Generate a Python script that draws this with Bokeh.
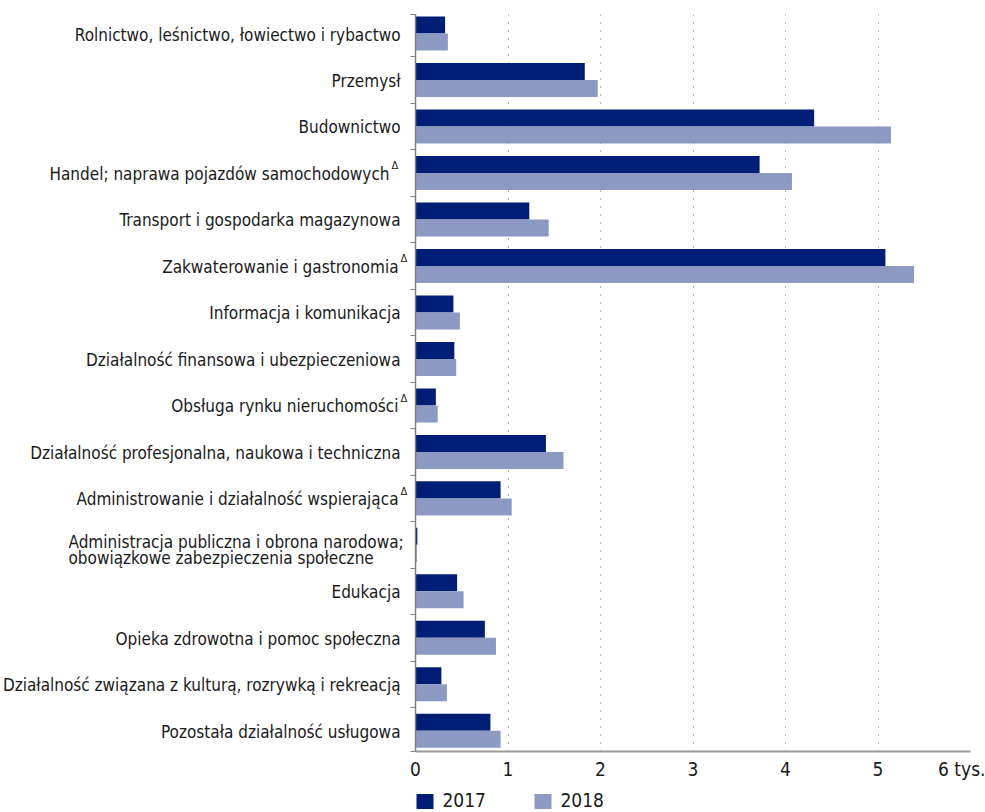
from bokeh.plotting import figure
from bokeh.layouts import row, column
from bokeh.models import ColumnDataSource, Range1d, FixedTicker
from bokeh.transform import dodge
from bokeh.core.properties import value
from bokeh.embed import file_html
from bokeh.resources import INLINE

categories = [
    "Rolnictwo, leśnictwo, łowiectwo i rybactwo",
    "Przemysł",
    "Budownictwo",
    "Handel; naprawa pojazdów samochodowych",
    "Transport i gospodarka magazynowa",
    "Zakwaterowanie i gastronomia",
    "Informacja i komunikacja",
    "Działalność finansowa i ubezpieczeniowa",
    "Obsługa rynku nieruchomości",
    "Działalność profesjonalna, naukowa i techniczna",
    "Administrowanie i działalność wspierająca",
    "Administracja publiczna i obrona narodowa;\nobowiązkowe zabezpieczenia społeczne",
    "Edukacja",
    "Opieka zdrowotna i pomoc społeczna",
    "Działalność związana z kulturą, rozrywką i rekreacją",
    "Pozostała działalność usługowa",
]
delta_flag = [False, False, False, True, False, True, False, False,
              True, False, True, False, False, False, False, False]
v2017 = [0.32, 1.83, 4.31, 3.72, 1.23, 5.08, 0.41, 0.42,
         0.22, 1.41, 0.92, 0.02, 0.45, 0.75, 0.28, 0.81]
v2018 = [0.35, 1.97, 5.14, 4.07, 1.44, 5.39, 0.48, 0.44,
         0.24, 1.60, 1.04, 0.015, 0.52, 0.87, 0.34, 0.92]
series_names = ["2017", "2018"]
x_ticks = [0, 1, 2, 3, 4, 5, 6]
x_tick_labels = ["0", "1", "2", "3", "4", "5", "6 tys."]

FONT = "'DejaVu Sans Condensed', Roboto, sans-serif"
TXT = "#1a1a1a"
C2017 = "#001E75"
C2018 = "#8C9AC3"
LABEL_SIZE = "17px"

n = len(categories)
ypos = list(range(n))
W = 985
H = 783
LEG_H = 812 - H
LW = 408          # width of the label column
TOP, BOTTOM = 14, H - 751

yr = Range1d(15.445, -0.409)

# ---------------- main chart ----------------
p = figure(width=W - LW, height=H, output_backend="svg", toolbar_location=None,
           x_range=Range1d(0, 6), y_range=yr,
           min_border_left=7, min_border_right=15, min_border_top=TOP,
           min_border_bottom=BOTTOM)
p.outline_line_color = None

src = ColumnDataSource(dict(y=ypos, v2017=v2017, v2018=v2018))
bh = 0.366
r1 = p.hbar(y=dodge("y", -bh / 2, range=yr), right="v2017", left=0,
            height=bh, source=src, fill_color=C2017, line_color=None)
r2 = p.hbar(y=dodge("y", bh / 2, range=yr), right="v2018", left=0,
            height=bh, source=src, fill_color=C2018, line_color=None)

xa = p.xaxis[0]
xa.ticker = FixedTicker(ticks=x_ticks)
xa.major_label_overrides = {t: lab for t, lab in zip(x_ticks, x_tick_labels)}
xa.major_label_text_font = FONT
xa.major_label_text_font_size = "19px"
xa.major_label_text_color = TXT
xa.major_label_standoff = 0
xa.major_tick_line_color = None
xa.minor_tick_line_color = None
xa.axis_line_color = "#9a9a9a"
xa.axis_line_width = 2

ya = p.yaxis[0]
yticks = [-0.409] + [i + 0.5 for i in range(n - 1)] + [15.445]
ya.ticker = FixedTicker(ticks=yticks)
ya.major_label_overrides = {t: "" for t in yticks}
ya.major_label_standoff = 0
ya.major_tick_out = 5
ya.major_tick_in = 0
ya.major_tick_line_color = "#808080"
ya.minor_tick_line_color = None
ya.axis_line_color = "#808080"
ya.axis_line_width = 1.5

p.ygrid.grid_line_color = None
p.xgrid.ticker = FixedTicker(ticks=[1, 2, 3, 4, 5, 6])
p.xgrid.grid_line_color = "#6a6a6a"
p.xgrid.grid_line_dash = "1 7"
p.xgrid.grid_line_width = 1

# ---------------- label column ----------------
q = figure(width=LW, height=H, output_backend="svg", toolbar_location=None,
           x_range=Range1d(0, LW), y_range=yr,
           min_border_left=0, min_border_right=0, min_border_top=TOP,
           min_border_bottom=BOTTOM)
q.outline_line_color = None
q.axis.visible = False
q.grid.visible = False

r_text, r_y, r_x = [], [], []
l_text, l_y, l_yoff = [], [], []
d_y, d_x = [], []
for i, cat in enumerate(categories):
    lines = cat.split("\n")
    if len(lines) == 1:
        right = 400
        if delta_flag[i]:
            right = 389 if i == 3 else 398
            d_y.append(i)
            d_x.append(right + 2)
        r_text.append(cat)
        r_y.append(i)
        r_x.append(right)
    else:
        for k, ln in enumerate(lines):
            l_text.append(ln)
            l_y.append(i)
            l_yoff.append(-3 + 16.5 * k)

q.text(x="x", y="y", text="text",
       source=ColumnDataSource(dict(x=r_x, y=r_y, text=r_text)),
       text_align="right", text_baseline="middle", text_font=value(FONT),
       text_font_size=LABEL_SIZE, text_color=TXT, y_offset=1)
q.text(x="x", y="y", text="text", y_offset="yoff",
       source=ColumnDataSource(dict(x=[68] * len(l_text), y=l_y, text=l_text,
                                    yoff=l_yoff)),
       text_align="left", text_baseline="middle", text_font=value(FONT),
       text_font_size=LABEL_SIZE, text_color=TXT)
q.text(x="x", y="y", text="text",
       source=ColumnDataSource(dict(x=d_x, y=d_y, text=["\u0394"] * len(d_y))),
       text_align="left", text_baseline="middle", text_font=value(FONT),
       text_font_size="11px", text_color=TXT, y_offset=-7)

# ---------------- legend strip ----------------
g = figure(width=W, height=LEG_H, output_backend="svg", toolbar_location=None,
           x_range=Range1d(0, W), y_range=Range1d(0, LEG_H),
           min_border_left=0, min_border_right=0, min_border_top=0,
           min_border_bottom=0)
g.outline_line_color = None
g.axis.visible = False
g.grid.visible = False
leg_x = [424.5, 542.5]
g.rect(x=leg_x, y=[11, 11], width=17, height=15,
       fill_color=[C2017, C2018], line_color=None)
g.text(x=[x + 17.5 for x in leg_x], y=[12.5, 12.5], text=series_names,
       text_align="left", text_baseline="middle", text_font=value(FONT),
       text_font_size="19px", text_color=TXT)

layout = column(row(q, p), g)
open("out.html", "w").write(file_html(layout, INLINE))
